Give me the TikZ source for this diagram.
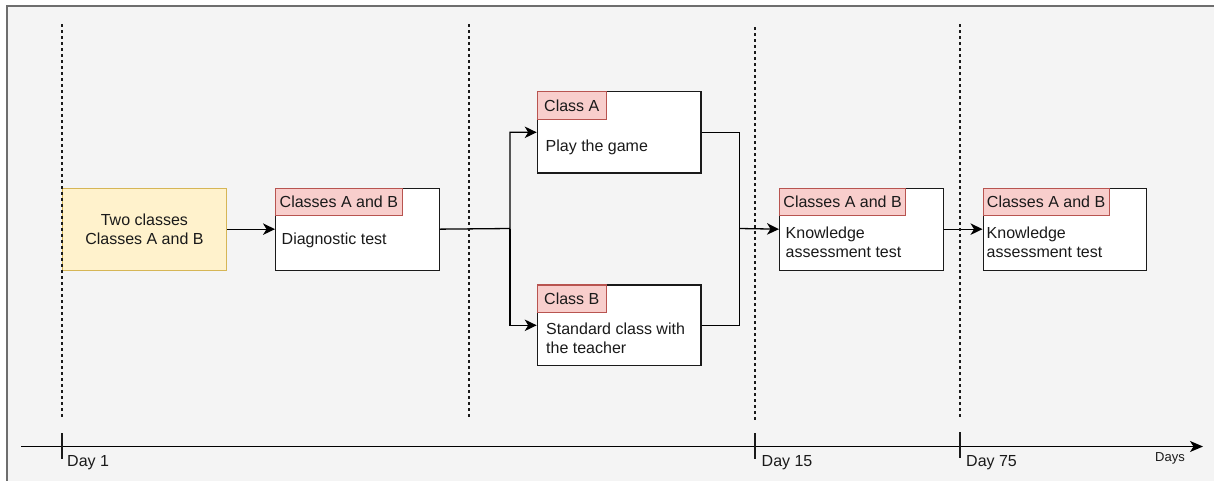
\documentclass[tikz,border=0pt]{standalone}
\usepackage{fontspec}
\setmainfont{Liberation Sans}
\usetikzlibrary{arrows.meta}
\definecolor{canvas}{HTML}{F4F4F4}
\definecolor{frame}{HTML}{6E6E6E}
\definecolor{noteFill}{HTML}{FFF2CC}
\definecolor{noteLine}{HTML}{D6B656}
\definecolor{tagFill}{HTML}{F8CECC}
\definecolor{tagLine}{HTML}{B85450}
\definecolor{ink}{HTML}{1A1A1A}

\begin{document}
\begin{tikzpicture}[x=1pt,y=-1pt,
  every node/.style={font=\fontsize{16}{19}\selectfont, text=ink},
  stepbox/.style={draw=ink, fill=white, line width=1.3pt, minimum width=163.5pt,
    minimum height=82pt, inner sep=0pt, anchor=north west},
  tag/.style={draw=tagLine, fill=tagFill, line width=1.2pt, minimum height=27.7pt,
    inner sep=0pt, anchor=north west},
  body/.style={anchor=north west, inner sep=0pt, align=left},
  conn/.style={line width=1.3pt, draw=black},
  flow/.style={conn, -{Stealth[length=12pt,width=11.5pt,inset=3.5pt]}},
  guide/.style={line width=1.4pt, dash pattern=on 3pt off 3pt, draw=ink},
  tick/.style={line width=1.5pt, draw=ink},
  daylabel/.style={anchor=base west, inner sep=0pt}
]
% canvas
\useasboundingbox (0,0) rectangle (1214,480);
\draw[draw=frame, fill=canvas, line width=1.3pt] (7,6) rectangle (1224,492);

% starting group
\node[stepbox, draw=noteLine, fill=noteFill, align=center] (start) at (62,187.5)
  {Two classes\\Classes A and B};

% diagnostic test
\node[stepbox] (diag) at (275,187.5) {};
\node[tag, minimum width=126.5pt] (diagTag) at (diag.north west) {Classes A and B};
\node[body] (diagText) at (281.5,232.7) {Diagnostic test};

% class A
\node[stepbox, minimum height=81.3pt] (classA) at (536.7,91) {};
\node[tag, minimum width=69pt] (classATag) at (classA.north west) {Class A};
\node[body] (classAText) at (545.5,140) {Play the game};

% class B
\node[stepbox, minimum height=80.7pt] (classB) at (536.7,284.3) {};
\node[tag, minimum width=69pt] (classBTag) at (classB.north west) {Class B};
\node[body] (classBText) at (546,322.4) {Standard class with\\the teacher};

% first knowledge test
\node[stepbox] (know1) at (779,187.5) {};
\node[tag, minimum width=126pt] (know1Tag) at (know1.north west) {Classes A and B};
\node[body] (know1Text) at (785.5,226.7) {Knowledge\\assessment test};

% second knowledge test
\node[stepbox] (know2) at (982.5,187.5) {};
\node[tag, minimum width=126pt] (know2Tag) at (know2.north west) {Classes A and B};
\node[body] (know2Text) at (986.5,226.7) {Knowledge\\assessment test};

% flow connectors
\coordinate (split) at (510,228.5);
\coordinate (join) at (739.5,228.5);
\draw[flow] (start.east) -- (diag.west);
\draw[flow] (diag.east) -- (split) |- (classA.west);
\draw[flow] (split) |- (classB.west);
\draw[conn] (classA.east) -| (join);
\draw[conn] (classB.east) -| (join);
\draw[flow] (join) -- (know1.west);
\draw[flow] (know1.east) -- (know2.west);

% phase separators
\draw[guide] (62,24) -- (62,419);
\draw[guide] (469,24) -- (469,418);
\draw[guide] (755,27) -- (755,420);
\draw[guide] (960,24) -- (960,417);

% time axis
\coordinate (tStart) at (21,446.5);
\coordinate (tEnd) at (1203,446.5);
\draw[conn, line width=1.4pt, -{Stealth[length=13pt,width=11pt,inset=3.5pt]}] (tStart) -- (tEnd);
\draw[tick] (62,433) -- (62,459);
\draw[tick] (755,433) -- (755,459);
\draw[tick] (960,432) -- (960,458);
\node[daylabel] (day1) at (67,466.5) {Day 1};
\node[daylabel] (day15) at (761.5,466.5) {Day 15};
\node[daylabel] (day75) at (966,466.5) {Day 75};
\node[daylabel, font=\fontsize{13}{15}\selectfont] (days) at (1155,461.5) {Days};
\end{tikzpicture}
\end{document}
